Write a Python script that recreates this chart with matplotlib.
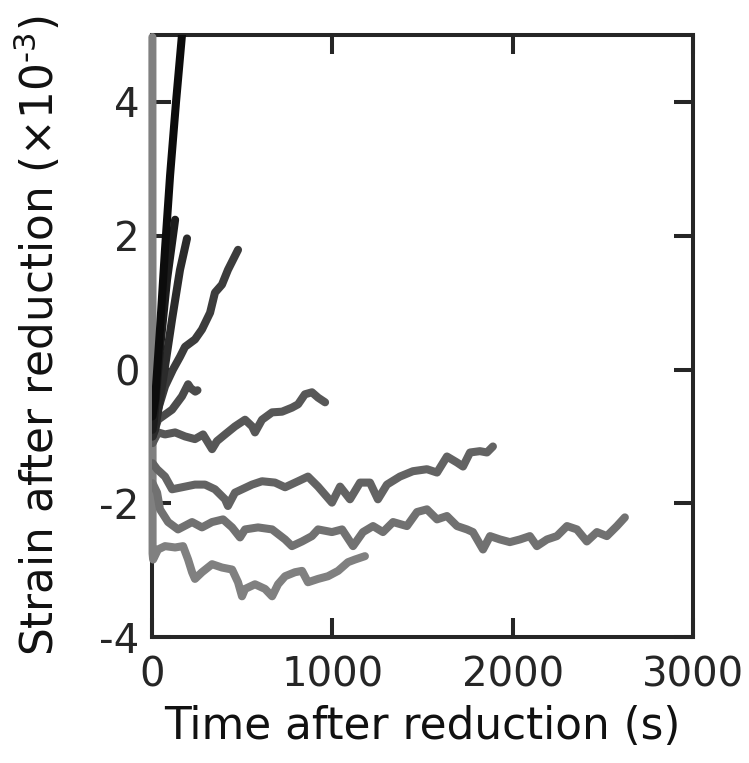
import numpy as np
import matplotlib
matplotlib.use('Agg')
import matplotlib.pyplot as plt

plt.rcParams['font.family'] = ['DejaVu Sans']
plt.rcParams['axes.unicode_minus'] = False

# strain traces after load reduction (t in s, strain in 1e-3)
t1 = [2, 17, 44, 72, 100, 133, 166, 178]
s1 = [-0.7, -0.45, 0.6, 1.8, 2.9, 4.0, 5.0, 5.4]

t2 = [3, 11, 44, 83, 128]
s2 = [-0.9, -0.75, 0.3, 1.34, 2.24]

t3 = [3, 17, 61, 111, 155, 194]
s3 = [-1.0, -0.9, -0.15, 0.75, 1.49, 1.96]

t4 = [3, 28, 72, 116, 155, 183, 238, 277, 322, 349, 388, 421, 477]
s4 = [-1.0, -0.64, -0.25, 0.0, 0.19, 0.34, 0.45, 0.6, 0.85, 1.15, 1.27, 1.49, 1.79]

t5 = [3, 33, 111, 166, 200, 215, 240, 252]
s5 = [-1.0, -0.75, -0.6, -0.4, -0.22, -0.28, -0.33, -0.31]

t6 = [3, 33, 72, 128, 183, 238, 283, 333, 360, 405, 460, 516, 555, 571, 610,
      666, 721, 776, 810, 848, 887, 921, 960]
s6 = [-1.1, -0.94, -0.97, -0.94, -1.0, -1.04, -0.97, -1.19, -1.07, -0.97, -0.85,
      -0.75, -0.85, -0.94, -0.75, -0.64, -0.63, -0.57, -0.52, -0.37, -0.34,
      -0.42, -0.49]

t7 = [3, 28, 72, 111, 166, 238, 294, 349, 405, 421, 460, 555, 610, 682, 738,
      810, 865, 921, 998, 1043, 1098, 1154, 1209, 1253, 1303, 1375, 1447, 1525,
      1581, 1636, 1692, 1725, 1764, 1819, 1858, 1891]
s7 = [-1.4, -1.49, -1.6, -1.79, -1.76, -1.72, -1.72, -1.79, -1.94, -2.04, -1.84,
      -1.72, -1.67, -1.69, -1.76, -1.67, -1.6, -1.75, -1.99, -1.75, -1.94, -1.69,
      -1.69, -1.94, -1.72, -1.6, -1.52, -1.49, -1.54, -1.3, -1.39, -1.45, -1.24,
      -1.22, -1.24, -1.15]

t8 = [3, 28, 44, 89, 144, 222, 277, 333, 394, 444, 488, 516, 588, 666, 738,
      776, 832, 887, 921, 998, 1054, 1115, 1170, 1226, 1281, 1337, 1414, 1470,
      1525, 1581, 1636, 1692, 1747, 1780, 1836, 1875, 1930, 1985, 2041, 2096,
      2135, 2191, 2246, 2302, 2357, 2412, 2468, 2523, 2579, 2623]
s8 = [-1.7, -1.84, -2.09, -2.28, -2.39, -2.28, -2.36, -2.28, -2.24, -2.36, -2.51,
      -2.39, -2.36, -2.39, -2.54, -2.64, -2.57, -2.49, -2.39, -2.43, -2.39, -2.64,
      -2.43, -2.34, -2.43, -2.28, -2.34, -2.13, -2.09, -2.24, -2.19, -2.34, -2.39,
      -2.43, -2.69, -2.49, -2.54, -2.58, -2.54, -2.49, -2.64, -2.54, -2.49, -2.34,
      -2.39, -2.57, -2.43, -2.49, -2.34, -2.21]

# first point sits at the top of the axis (trace leaves the plot there)
t9 = [2, 3, 6, 33, 72, 128, 172, 200, 222, 238, 277, 333, 388, 444, 477, 499,
      516, 571, 627, 666, 699, 738, 793, 832, 865, 921, 976, 1032, 1087, 1126,
      1181]
s9 = [4.97, -2.75, -2.84, -2.69, -2.64, -2.66, -2.64, -2.84, -3.03, -3.13, -3.03,
      -2.91, -2.96, -2.99, -3.18, -3.39, -3.28, -3.21, -3.28, -3.39, -3.21, -3.09,
      -3.03, -3.01, -3.18, -3.13, -3.09, -3.01, -2.88, -2.84, -2.79]

traces = [(t9, s9), (t8, s8), (t7, s7), (t6, s6), (t5, s5),
          (t4, s4), (t3, s3), (t2, s2), (t1, s1)]
colors = ['#808080', '#717171', '#636363', '#575757', '#4b4b4b',
          '#3c3c3c', '#2b2b2b', '#1c1c1c', '#0c0c0c']

fig = plt.figure(figsize=(7.49, 7.63), dpi=100)
ax = fig.add_axes([0.203, 0.165, 0.722, 0.789])

for i, ((t, s), c) in enumerate(zip(traces, colors)):
    ax.plot(t, s, color=c, lw=5.8, solid_capstyle='round',
            solid_joinstyle='round', zorder=6, clip_on=(i != 0))

ax.set_xlim(0, 3000)
ax.set_ylim(-4, 5)
ax.set_xticks([0, 1000, 2000, 3000])
ax.set_yticks([-4, -2, 0, 2, 4])

for sp in ax.spines.values():
    sp.set_linewidth(2.9)
    sp.set_color('#262626')
    sp.set_zorder(5)

ax.tick_params(direction='in', length=14, width=2.9, color='#262626',
               labelsize=29, labelcolor='#262626', top=True, right=True, pad=9)
ax.tick_params(axis='x', pad=13)

ax.set_xlabel('Time after reduction (s)', fontsize=31.5, color='#111111', labelpad=7)
ax.set_ylabel('Strain after reduction (\u00d710$^{\\text{-3}}$)', fontsize=31.5,
              color='#111111', labelpad=26)

fig.savefig('out.png', dpi=100)
